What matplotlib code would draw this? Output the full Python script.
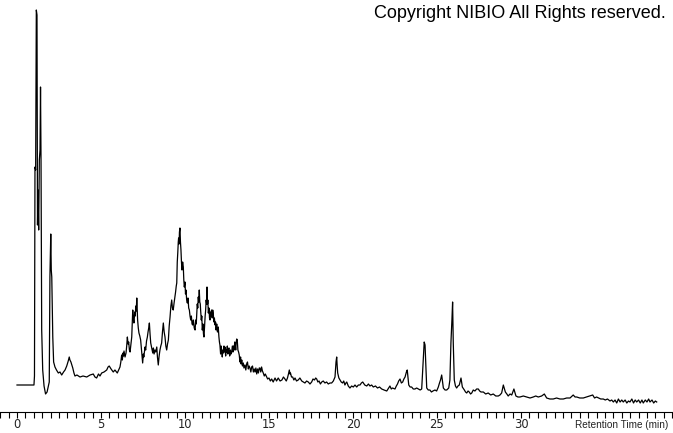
import numpy as np
import matplotlib.pyplot as plt
from matplotlib.ticker import MultipleLocator

# retention time (min) and detector signal (arbitrary units)
rt = [0.00, 0.48, 1.01, 1.04, 1.07, 1.11, 1.15, 1.19, 1.22, 1.25, 1.29, 1.33, 1.37, 1.40,
      1.43, 1.47, 1.53, 1.61, 1.70, 1.79, 1.92, 1.96, 2.01, 2.04, 2.07, 2.13, 2.18, 2.26,
      2.35, 2.46, 2.56, 2.66, 2.77, 2.86, 2.96, 3.05, 3.11, 3.15, 3.21, 3.32, 3.39, 3.45,
      3.57, 3.75, 3.93, 4.15, 4.35, 4.54, 4.64, 4.74, 4.85, 4.94, 5.04, 5.18, 5.34, 5.42,
      5.49, 5.60, 5.73, 5.83, 5.97,
      6.13, 6.18, 6.23, 6.27, 6.31, 6.34, 6.37, 6.43, 6.49, 6.53, 6.57, 6.61, 6.65, 6.69,
      6.73, 6.78, 6.83, 6.86, 6.89, 6.92, 6.96, 7.01, 7.04, 7.07, 7.10, 7.13, 7.16, 7.18,
      7.22, 7.26, 7.31, 7.36, 7.42, 7.48, 7.52, 7.55, 7.62, 7.66, 7.71, 7.76, 7.80, 7.84,
      7.88, 7.92, 7.96, 8.02, 8.08, 8.12, 8.16, 8.21, 8.26, 8.32, 8.36, 8.41, 8.46, 8.51,
      8.56, 8.61, 8.66, 8.71, 8.76, 8.81, 8.86, 8.91, 8.96, 9.01, 9.06, 9.11, 9.16, 9.21,
      9.25, 9.30, 9.35, 9.40, 9.44, 9.48, 9.51, 9.54, 9.57, 9.60, 9.62, 9.65, 9.67, 9.70,
      9.73, 9.76, 9.79, 9.82, 9.86, 9.90, 9.93, 9.96, 10.00, 10.03, 10.06, 10.10, 10.14,
      10.18, 10.22, 10.26, 10.30, 10.34, 10.38, 10.42, 10.46, 10.50, 10.55, 10.60, 10.64,
      10.67, 10.70, 10.73, 10.76, 10.79, 10.82, 10.85, 10.88, 10.91, 10.93, 10.97, 11.00,
      11.03, 11.07, 11.10, 11.13, 11.17, 11.20, 11.23, 11.26, 11.29, 11.31, 11.34, 11.36,
      11.39, 11.43, 11.46, 11.49, 11.52, 11.55, 11.58, 11.62, 11.65, 11.68, 11.72, 11.75,
      11.79, 11.82, 11.85, 11.89, 11.93, 11.98, 12.02, 12.05, 12.08, 12.12, 12.15, 12.18,
      12.22, 12.25, 12.28, 12.32, 12.35, 12.38, 12.42, 12.45, 12.48, 12.52, 12.55, 12.58,
      12.62, 12.66, 12.70, 12.74, 12.78, 12.82, 12.86, 12.89, 12.93, 12.96, 12.98, 13.02,
      13.05, 13.08, 13.11, 13.15, 13.19, 13.23, 13.27, 13.31, 13.34, 13.38, 13.42, 13.47,
      13.51, 13.57, 13.62, 13.67, 13.72, 13.77, 13.82, 13.87, 13.92, 13.97, 14.02, 14.07,
      14.12, 14.17, 14.22, 14.27, 14.32, 14.37, 14.42, 14.46, 14.51, 14.56, 14.61, 14.66,
      14.72, 14.78, 14.86, 14.92, 15.00,
      15.08, 15.16, 15.25, 15.36, 15.45, 15.55, 15.66, 15.77, 15.86, 15.95, 16.03, 16.10,
      16.16, 16.21, 16.25, 16.28, 16.34, 16.41, 16.48, 16.55, 16.64, 16.74, 16.84, 16.95,
      17.05, 17.14, 17.24, 17.34, 17.44, 17.54, 17.62, 17.71, 17.78, 17.84, 17.91, 17.98,
      18.06, 18.14, 18.23, 18.33, 18.43, 18.53, 18.63, 18.73, 18.83, 18.93, 18.99, 19.03,
      19.06, 19.09, 19.16, 19.23, 19.30, 19.38, 19.45, 19.52, 19.58, 19.63, 19.72, 19.82,
      19.92, 20.02,
      20.12, 20.22, 20.32, 20.42, 20.50, 20.58, 20.70, 20.82, 20.92, 21.01, 21.11, 21.21,
      21.34, 21.46, 21.58, 21.71, 21.85, 22.01, 22.12, 22.20, 22.28, 22.35, 22.50, 22.58,
      22.65, 22.72, 22.80, 22.88, 22.96, 23.03, 23.10, 23.18, 23.23, 23.32, 23.40, 23.49,
      23.59, 23.69, 23.79, 23.89, 24.00, 24.09, 24.18, 24.24, 24.29, 24.33, 24.39, 24.48,
      24.58, 24.67, 24.76, 24.88, 24.98, 25.08, 25.15, 25.21, 25.28, 25.38, 25.48, 25.58,
      25.70, 25.77, 25.83, 25.89, 25.93, 25.97, 26.03, 26.10, 26.17, 26.25, 26.33, 26.43,
      26.51, 26.63, 26.70, 26.77, 26.85, 26.92, 27.00, 27.07, 27.16, 27.26, 27.36, 27.46,
      27.54, 27.62, 27.76, 27.90, 28.05, 28.20, 28.35, 28.50, 28.65, 28.75, 28.85, 28.95,
      29.07, 29.16, 29.24, 29.35, 29.45, 29.58, 29.70, 29.82, 29.94, 30.14, 30.34, 30.54,
      30.73, 30.88, 31.03, 31.23, 31.39, 31.53, 31.72, 31.92, 32.12, 32.32, 32.52, 32.72,
      32.92, 33.11, 33.22, 33.32, 33.50, 33.71, 33.90, 34.11, 34.27, 34.38, 34.50, 34.62,
      34.75, 34.90, 35.02, 35.15, 35.30, 35.40, 35.50, 35.60, 35.70, 35.80, 35.90, 36.00,
      36.09, 36.20, 36.30, 36.40, 36.49, 36.60, 36.70, 36.80, 36.89, 37.00, 37.10, 37.20,
      37.28, 37.40, 37.50, 37.60, 37.68, 37.80, 37.90, 38.00, 38.08]
signal = [27, 27, 27, 36, 245, 242, 402, 397, 187, 222, 182, 252, 262, 325,
          252, 82, 42, 26, 18, 20, 30, 135, 178, 142, 135, 75, 50, 45,
          42, 39, 40, 37, 40, 42, 46, 51, 55, 52, 50, 44, 39, 36,
          37, 35, 36, 35, 37, 38, 35, 34, 38, 36, 39, 40, 42, 45,
          46, 43, 40, 42, 39,
          45, 50, 57, 52, 59, 56, 61, 55, 59, 66, 75, 68, 70, 62,
          60, 68, 75, 88, 102, 94, 89, 100, 96, 106, 101, 114, 100, 92,
          84, 79, 76, 72, 60, 49, 58, 55, 65, 62, 71, 75, 80, 84,
          89, 78, 69, 64, 59, 64, 58, 62, 60, 65, 55, 47, 56, 62,
          66, 69, 80, 89, 80, 75, 66, 62, 68, 72, 86, 95, 106, 112,
          104, 102, 109, 115, 120, 126, 129, 150, 159, 170, 174, 168, 180, 184,
          170, 162, 150, 142, 150, 145, 132, 125, 130, 118, 122, 112, 109,
          114, 104, 102, 96, 92, 96, 88, 87, 92, 84, 82, 92,
          88, 99, 108, 104, 115, 110, 122, 110, 108, 102, 92, 96,
          82, 88, 78, 75, 88, 96, 102, 112, 108, 125, 108, 112,
          99, 104, 94, 92, 100, 96, 102, 94, 102, 99, 90, 94,
          87, 90, 82, 88, 80, 85, 75, 70, 67, 58, 66, 62,
          55, 62, 59, 66, 60, 65, 56, 62, 60, 66, 58, 63,
          64, 56, 62, 58, 60, 66, 60, 66, 62, 70, 69, 62,
          70, 73, 72, 62, 60, 57, 50, 55, 48, 52, 46, 49,
          44, 47, 42, 48, 50, 43, 46, 44, 40, 45, 46, 40,
          43, 40, 44, 38, 43, 39, 44, 44, 40, 45, 41, 39,
          36, 38, 35, 33, 34,
          31, 33, 30, 34, 31, 34, 31, 32, 35, 33, 31, 34,
          38, 42, 38, 39, 35, 35, 32, 34, 31, 32, 34, 31,
          30, 29, 31, 30, 28, 30, 33, 32, 34, 33, 30, 31,
          28, 30, 31, 29, 30, 28, 29, 29, 31, 35, 50, 55,
          46, 39, 34, 32, 30, 29, 31, 27, 29, 30, 26, 24,
          26, 25,
          27, 25, 27, 27, 29, 30, 27, 26, 28, 26, 27, 25,
          26, 24, 25, 23, 22, 21, 24, 26, 23, 24, 23, 26,
          28, 31, 33, 29, 30, 33, 35, 40, 42, 27, 25, 25,
          23, 23, 24, 23, 22, 23, 52, 70, 67, 49, 24, 22,
          22, 20, 21, 22, 21, 25, 29, 32, 37, 24, 22, 22,
          24, 32, 69, 92, 110, 69, 32, 26, 24, 26, 27, 34,
          25, 22, 20, 19, 21, 20, 18, 19, 22, 21, 23, 23,
          21, 20, 20, 18, 19, 17, 18, 16, 16, 17, 19, 27,
          20, 18, 16, 18, 17, 23, 16, 15, 15, 16, 15, 14,
          15, 16, 15, 16, 18, 14, 13, 13, 14, 13, 13, 14,
          14, 17, 15, 15, 14, 14, 15, 16, 17, 14, 15, 14,
          13, 13, 12, 13, 11, 12, 10, 12, 9, 13, 10, 12,
          10, 12, 9, 11, 10, 13, 9, 12, 10, 12, 9, 12,
          9, 12, 10, 13, 10, 12, 9, 11, 10]
tick_values = [0, 5, 10, 15, 20, 25, 30]

fig = plt.figure(figsize=(6.73, 4.33), dpi=100)
ax = fig.add_axes([0, 21 / 433, 1, 412 / 433])

ax.plot(rt, signal, color='black', lw=0.9)

ax.set_xlim(-1.012, 39.05)
ax.set_ylim(0, 412)
for s in ['top', 'left', 'right']:
    ax.spines[s].set_visible(False)
ax.spines['bottom'].set_linewidth(0.8)
ax.set_yticks([])
ax.xaxis.set_major_locator(MultipleLocator(5))
ax.xaxis.set_minor_locator(MultipleLocator(0.5))
ax.tick_params(axis='x', which='both', direction='out', length=4, width=0.8)
ax.set_xticklabels([])
# labels only up to 30, as in the original instrument printout
for t in tick_values:
    ax.text(t, -13, str(t), ha='center', va='center', fontsize=8.3, color='#222222',
            family='DejaVu Sans', clip_on=False)

fig.text(668 / 673, 1 - 425 / 433, 'Retention Time (min)', ha='right', va='center',
         fontsize=7.2, color='#222222', family='Liberation Sans')
fig.text(666 / 673, 1 - 14 / 433, 'Copyright NIBIO All Rights reserved.', ha='right',
         va='center', fontsize=13, family='Liberation Sans')

fig.savefig('out.png', dpi=100)
